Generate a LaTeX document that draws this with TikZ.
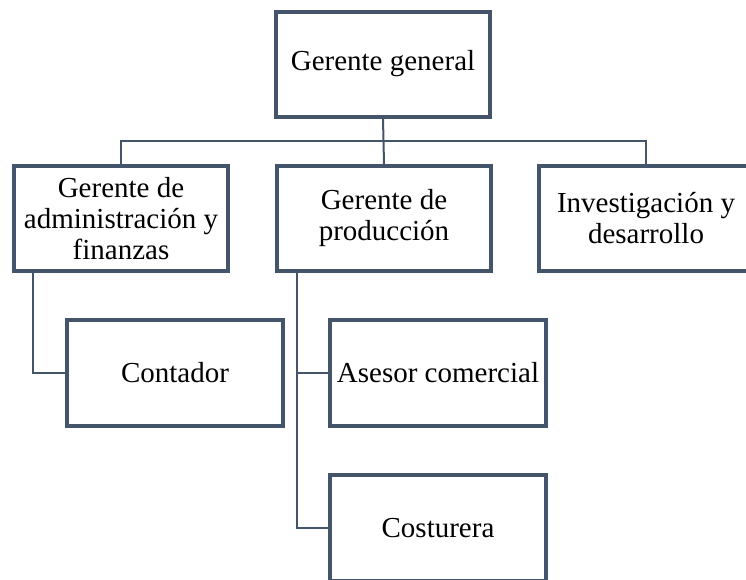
\documentclass[tikz,border=0pt]{standalone}
\usepackage{fontspec}
\setmainfont{Liberation Serif}
\usetikzlibrary{calc}
\definecolor{slate}{HTML}{44546A}
\begin{document}
\begin{tikzpicture}[x=1pt,y=1pt,
  orgbox/.style={draw=slate, line width=4pt, fill=white, minimum width=214pt, minimum height=105pt,
    inner sep=0pt, align=center, font=\fontsize{29}{31}\selectfont},
  conn/.style={draw=slate, line width=2pt}]
\clip (0,0) rectangle (746,-579);
\fill[white] (0,0) rectangle (746,-579);
\node[orgbox] (top) at (383,-64) {Gerente general};
\node[orgbox] (left) at (121,-218.5) {Gerente de\\administración y\\finanzas};
\node[orgbox] (mid) at (384,-218.5) {Gerente de\\producción};
\node[orgbox] (right) at (646,-218.5) {Investigación y\\desarrollo};
\node[orgbox, minimum width=216pt, minimum height=106pt] (cont) at (175,-373) {Contador};
\node[orgbox, minimum width=216pt, minimum height=106pt] (ases) at (438,-373) {Asesor comercial};
\node[orgbox, minimum width=216pt, minimum height=106pt] (cost) at (438,-528) {Costurera};
\begin{scope}[on background layer/.try]
\end{scope}
\draw[conn] (top.south) -- (mid.north);
\draw[conn] (left.north) |- ($(top.south)!.5!(mid.north)$) -| (right.north);
\coordinate (pl) at ([xshift=21pt]left.south west);
\draw[conn] (pl) |- (cont.west);
\coordinate (pm) at ([xshift=22pt]mid.south west);
\draw[conn] (pm) |- (cost.west);
\draw[conn] (pm |- ases.west) -- (ases.west);
\end{tikzpicture}
\end{document}
